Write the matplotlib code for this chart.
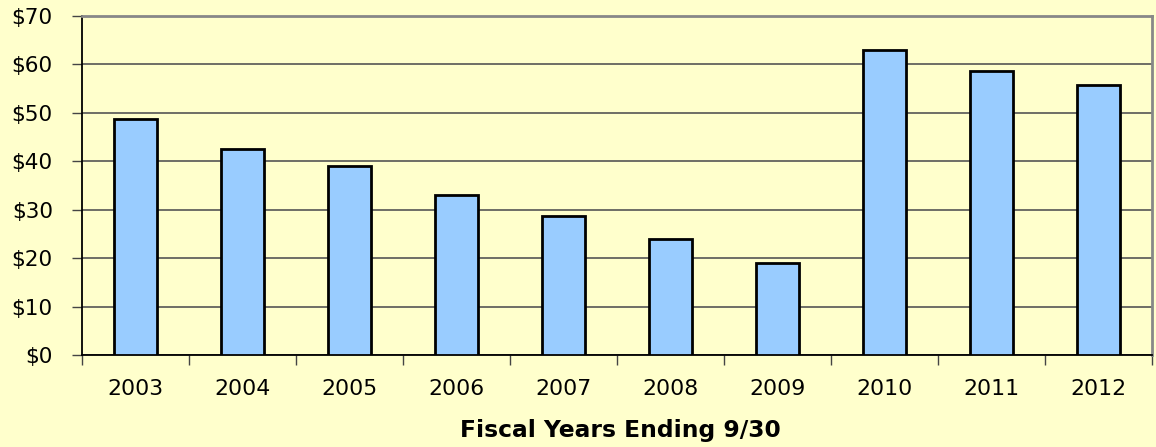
import matplotlib
matplotlib.use("Agg")
import matplotlib.pyplot as plt
import numpy as np

years = ["2003", "2004", "2005", "2006", "2007", "2008", "2009", "2010", "2011", "2012"]
values = [48.8, 42.5, 39.0, 33.0, 28.7, 23.9, 19.1, 63.0, 58.6, 55.8]
yticks = [0, 10, 20, 30, 40, 50, 60, 70]
xlabel = "Fiscal Years Ending 9/30"

bg = "#FFFFCC"
fig = plt.figure(figsize=(11.56, 4.47), dpi=100, facecolor=bg)
ax = fig.add_axes([82/1156, 92/447, (1152-82)/1156, (355-16)/447])
ax.set_facecolor(bg)

x = np.arange(len(years))
ax.bar(x, values, width=0.40, color="#99CCFF", edgecolor="black", linewidth=2.0, zorder=3)

ax.set_xlim(-0.5, len(years) - 0.5)
ax.set_ylim(0, 70)
ax.set_yticks(yticks)
ax.set_yticklabels([f"${v}" for v in yticks])
ax.yaxis.grid(True, color="#555555", linewidth=1.2, zorder=0)
ax.set_axisbelow(True)

ax.set_xticks(x)
ax.set_xticklabels(years)
ax.set_xticks(np.arange(-0.5, len(years)), minor=True)
ax.tick_params(axis="x", which="major", length=0, pad=17, labelsize=15.8, colors="black")
ax.tick_params(axis="x", which="minor", length=7, width=1, color="#444444")
ax.tick_params(axis="y", length=7, width=1, color="#444444", pad=14, labelsize=15.6)

for s in ["top", "right"]:
    ax.spines[s].set_color("#888888")
    ax.spines[s].set_linewidth(2)
ax.spines["left"].set_color("black")
ax.spines["left"].set_linewidth(1.3)
ax.spines["bottom"].set_color("black")
ax.spines["bottom"].set_linewidth(1.3)

fig.text(620/1156, 1 - 430/447, xlabel, ha="center", va="center",
         fontsize=16.8, fontweight="bold")

fig.savefig("out.png", dpi=100, facecolor=bg)
